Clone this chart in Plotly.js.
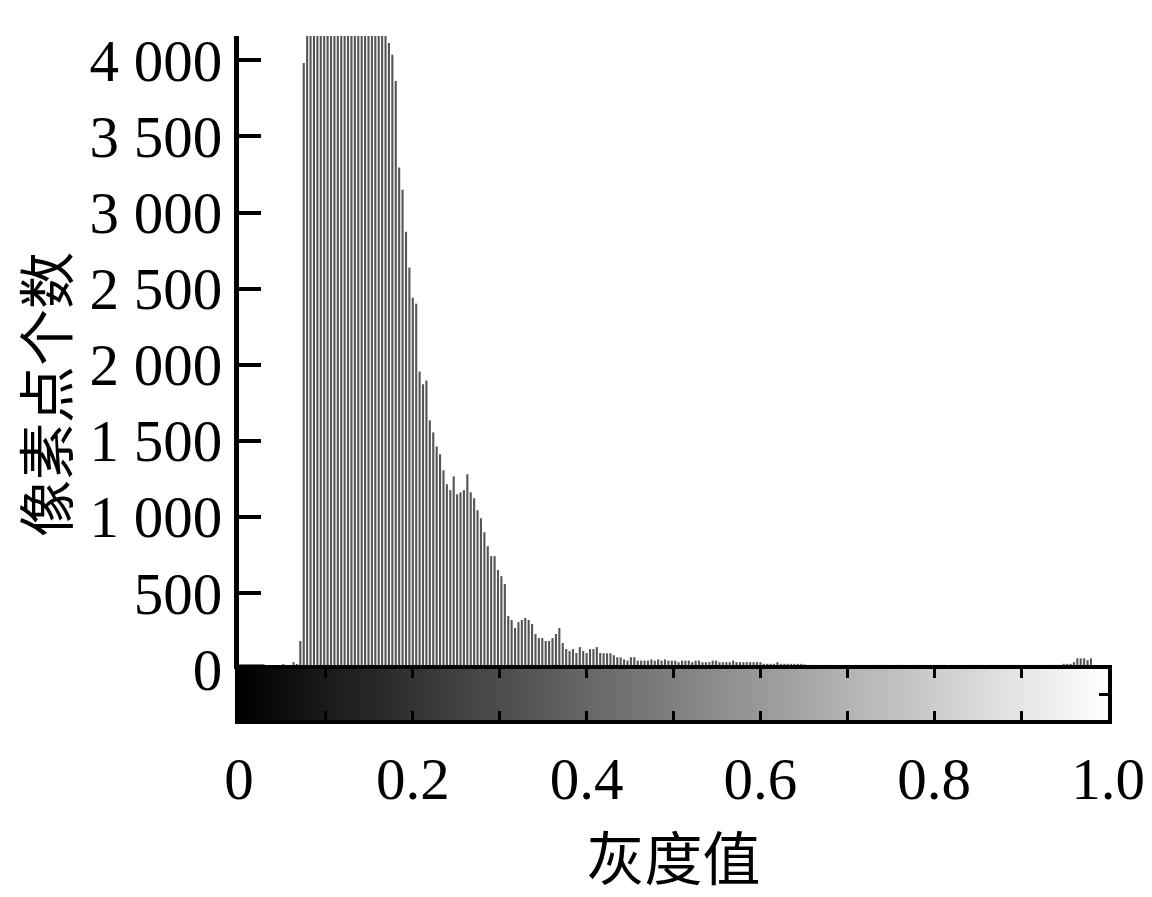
<!DOCTYPE html>
<html>
<head>
<meta charset="utf-8">
<script src="https://cdn.plot.ly/plotly-3.0.1.min.js"></script>
<style>html,body{margin:0;padding:0;background:#fff;}#chart{width:1152px;height:897px;}</style>
</head>
<body>
<div id="chart"></div>
<script>
// Histogram: 256 grey-level bins (0..255)/255, pixel counts per bin
const binIndex = Array.from({length: 256}, (_, i) => i);
const counts = [
  30,30,30,30,30,30,30,30,0,20,
  20,20,20,33,20,20,45,33,184,3983,
  5200,6800,8100,9300,10200,10900,11300,11500,11400,11100,
  10600,10000,9300,8600,7900,7200,6500,5900,5400,5000,
  4700,4500,4300,4200,4114,4036,3865,3296,3150,2874,
  2638,2440,2400,1955,1872,1896,1634,1555,1463,1411,
  1306,1214,1175,1266,1148,1161,1175,1280,1161,1122,
  1043,991,899,807,742,742,650,610,558,348,
  322,269,308,322,335,322,295,230,203,203,
  184,184,203,230,269,171,131,118,131,105,
  144,118,105,131,131,144,105,103,103,103,
  90,77,77,63,55,77,77,55,55,55,
  55,63,55,63,55,63,55,55,55,45,
  55,55,55,45,55,55,45,45,45,55,
  55,45,45,45,45,55,45,45,45,45,
  45,45,45,45,34,34,34,34,45,34,
  34,34,34,34,34,34,30,27,27,27,
  27,24,27,27,27,24,27,27,27,27,
  24,27,27,27,27,24,27,27,27,27,
  27,24,27,27,27,27,24,27,27,27,
  27,27,24,27,27,27,27,27,24,27,
  27,27,27,24,27,27,27,27,27,24,
  27,27,27,27,24,27,27,27,27,27,
  24,27,27,27,27,27,24,27,27,27,
  27,27,34,34,34,45,70,70,70,58,
  70,24,0,0,0,0
];
const grayLevels = binIndex.map(i => i / 255);

// Axis ticks
const xTickVals = [0, 0.1, 0.2, 0.3, 0.4, 0.5, 0.6, 0.7, 0.8, 0.9, 1.0];
const xTickText = ['0', '', '0.2', '', '0.4', '', '0.6', '', '0.8', '', '1.0'];
const xMajorVals = [0, 0.2, 0.4, 0.6, 0.8, 1.0];
const yTickVals = [0, 500, 1000, 1500, 2000, 2500, 3000, 3500, 4000, 4160];
const yTickText = ['0', '500', '1 000', '1 500', '2 000', '2 500', '3 000', '3 500', '4 000', ''];
const xTitle = '灰度值';
const yTitle = '像素点个数';

const darkBins = 8;
const barColors = binIndex.map(i => i < darkBins ? '#000000' : '#555555');
const barWidths = binIndex.map(i => i < darkBins ? 1 / 255 : 0.62 / 255);

const hist = {
  type: 'bar', x: grayLevels, y: counts,
  xaxis: 'x', yaxis: 'y',
  marker: {color: barColors, line: {width: 0}},
  width: barWidths,
  hoverinfo: 'skip'
};
const strip = {
  type: 'heatmap', x: grayLevels, y: [0.5], z: [binIndex],
  xaxis: 'x', yaxis: 'y2',
  colorscale: [[0, '#000000'], [1, '#ffffff']],
  showscale: false, hoverinfo: 'skip'
};

const serif = '"Liberation Serif", "Times New Roman", serif';
const cjk = '"Noto Sans CJK SC", sans-serif';
const stripFrac = 51 / 684;

const layout = {
  width: 1152, height: 897,
  margin: {l: 239, r: 44, t: 36, b: 177, pad: 0},
  paper_bgcolor: '#ffffff', plot_bgcolor: 'rgba(0,0,0,0)',
  showlegend: false,
  font: {family: serif, size: 59, color: '#000000'},
  xaxis: {
    domain: [0, 1], anchor: 'y2', range: [0, 1],
    tickmode: 'array', tickvals: xTickVals, ticktext: xTickText,
    ticks: 'inside', ticklen: 9, tickwidth: 3, tickcolor: '#000',
    mirror: 'ticks',
    showline: true, linewidth: 4, linecolor: '#000',
    showgrid: false, zeroline: false,
    ticklabelstandoff: 4,
    tickfont: {family: serif, size: 59},
    title: {text: xTitle, font: {family: cjk, size: 58}, standoff: 30}
  },
  xaxis4: {
    overlaying: 'x', anchor: 'y2', range: [0, 1],
    tickmode: 'array', tickvals: xMajorVals,
    ticks: 'inside', ticklen: 22, tickwidth: 4, tickcolor: '#000',
    showticklabels: false, showline: false, showgrid: false, zeroline: false
  },
  xaxis2: {
    overlaying: 'x', anchor: 'y', range: [0, 1],
    tickmode: 'array', tickvals: xTickVals,
    ticks: 'inside', ticklen: 10, tickwidth: 3, tickcolor: '#000',
    showticklabels: false, showline: true, linewidth: 3, linecolor: '#000',
    showgrid: false, zeroline: false
  },
  yaxis: {
    domain: [stripFrac, 1], anchor: 'x', range: [0, 4160],
    tickmode: 'array', tickvals: yTickVals, ticktext: yTickText,
    ticks: 'inside', ticklen: 22, tickwidth: 4, tickcolor: '#000',
    showline: true, linewidth: 5, linecolor: '#000',
    showgrid: false, zeroline: false,
    ticklabelstandoff: 0,
    tickfont: {family: serif, size: 59}
  },
  yaxis2: {
    domain: [0, stripFrac], anchor: 'x', range: [0, 1],
    tickmode: 'array', tickvals: [0.5],
    ticks: 'inside', ticklen: 9, tickwidth: 3, tickcolor: '#000',
    mirror: 'ticks', showline: true, linewidth: 4, linecolor: '#000',
    showticklabels: false, showgrid: false, zeroline: false
  },
  annotations: [{
    text: yTitle, textangle: -90, showarrow: false,
    xref: 'paper', yref: 'paper', x: (43 - 239) / 869, y: (720 - 395) / 684,
    xanchor: 'center', yanchor: 'middle',
    font: {family: cjk, size: 57, color: '#000'}
  }]
};

Plotly.newPlot('chart', [strip, hist], layout, {displayModeBar: false, staticPlot: true});
</script>
</body>
</html>
